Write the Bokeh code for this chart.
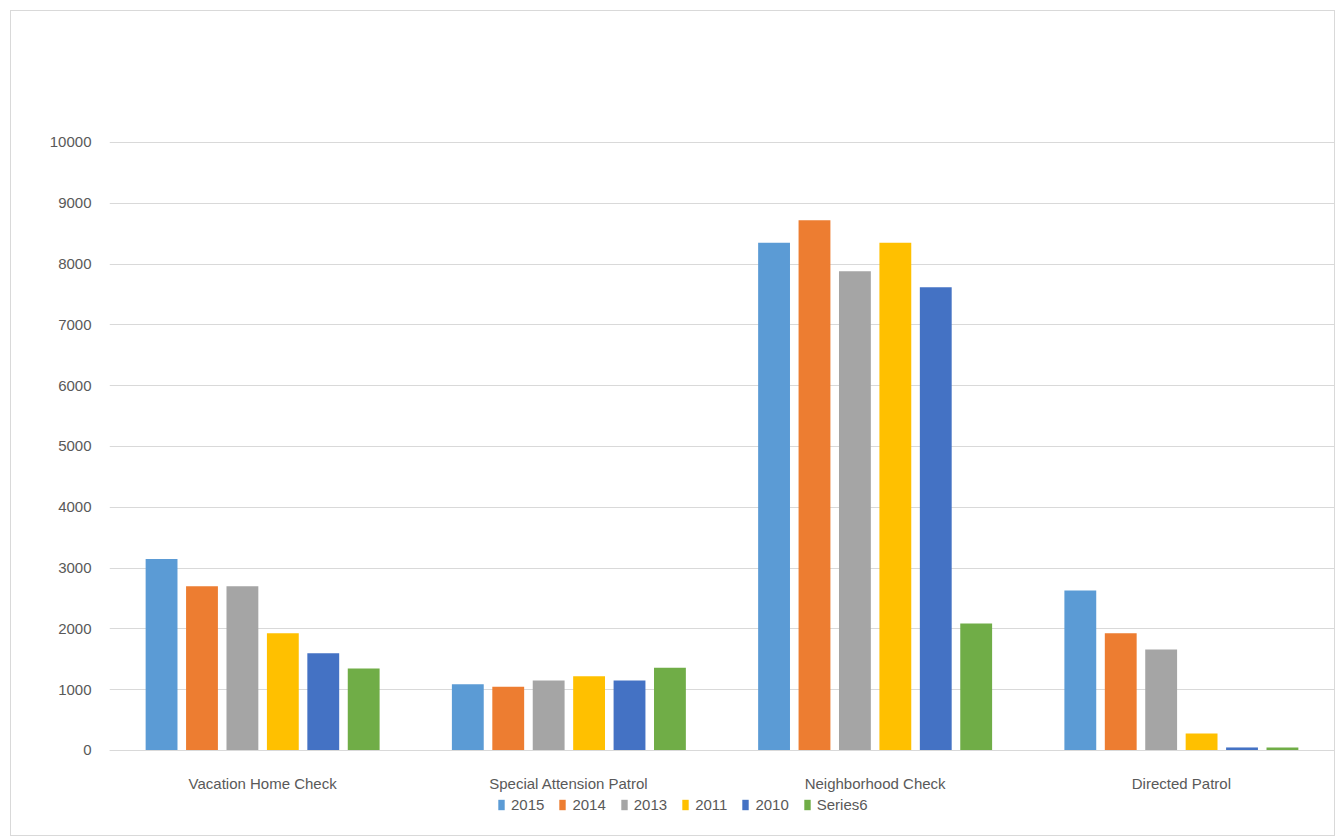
from bokeh.plotting import figure
from bokeh.models import (ColumnDataSource, FactorRange, Range1d, Legend, LegendItem,
                          FixedTicker, CategoricalAxis)
from bokeh.transform import dodge
from bokeh.embed import file_html
from bokeh.resources import INLINE

categories = ["Vacation Home Check", "Special Attension Patrol", "Neighborhood Check", "Directed Patrol"]
series_names = ["2015", "2014", "2013", "2011", "2010", "Series6"]
s2015 = [3150, 1090, 8350, 2630]
s2014 = [2700, 1050, 8720, 1930]
s2013 = [2700, 1150, 7880, 1660]
s2011 = [1930, 1220, 8350, 280]
s2010 = [1600, 1150, 7620, 50]
series6 = [1350, 1360, 2090, 50]
y_ticks = [0, 1000, 2000, 3000, 4000, 5000, 6000, 7000, 8000, 9000, 10000]
colors = ["#5B9BD5", "#ED7D31", "#A5A5A5", "#FFC000", "#4472C4", "#70AD47"]

data = {"cat": categories}
all_series = [s2015, s2014, s2013, s2011, s2010, series6]
keys = ["s0", "s1", "s2", "s3", "s4", "s5"]
for k, s in zip(keys, all_series):
    data[k] = s
source = ColumnDataSource(data)

FONT = "Liberation Sans Narrow, Liberation Sans, sans-serif"

p = figure(x_range=FactorRange(*categories, range_padding=0),
           y_range=Range1d(-1398, 10016),
           width=1325, height=826, x_axis_location=None,
           output_backend="svg", toolbar_location=None,
           min_border_left=98, min_border_right=2, min_border_top=130, min_border_bottom=2)
p.margin = (10, 0, 0, 10)
p.styles = {"border": "1px solid #d9d9d9", "box-sizing": "border-box"}

pitch = 0.132
bw = 0.104
items = []
for j, (k, name, c) in enumerate(zip(keys, series_names, colors)):
    r = p.vbar(x=dodge("cat", (j - 2.5) * pitch, range=p.x_range), top=k, width=bw,
               source=source, fill_color=c, line_color=None)
    items.append(LegendItem(label=name, renderers=[r]))

xaxis = CategoricalAxis(fixed_location=0)
p.add_layout(xaxis, "below")

p.outline_line_color = None
p.xgrid.grid_line_color = None
p.ygrid.grid_line_color = "#d9d9d9"
p.ygrid.grid_line_width = 1
p.yaxis.ticker = FixedTicker(ticks=y_ticks)
p.yaxis.axis_line_color = None
p.yaxis.major_tick_line_color = None
p.yaxis.minor_tick_line_color = None
p.yaxis.major_label_standoff = 12
xaxis.axis_line_color = "#d9d9d9"
xaxis.major_tick_line_color = None
xaxis.minor_tick_line_color = None
xaxis.major_label_standoff = 19
for ax in (xaxis, p.yaxis[0]):
    ax.major_label_text_font = FONT
    ax.major_label_text_font_size = "15px"
    ax.major_label_text_color = "#595959"

legend = Legend(items=items, orientation="horizontal", location=(388, 22),
                glyph_width=8, glyph_height=13, label_standoff=6, spacing=14,
                label_text_font=FONT, label_text_font_size="15px", label_text_color="#595959",
                border_line_color=None, background_fill_alpha=0, padding=2, margin=0)
p.add_layout(legend, "center")

open("out.html", "w").write(file_html(p, INLINE))
